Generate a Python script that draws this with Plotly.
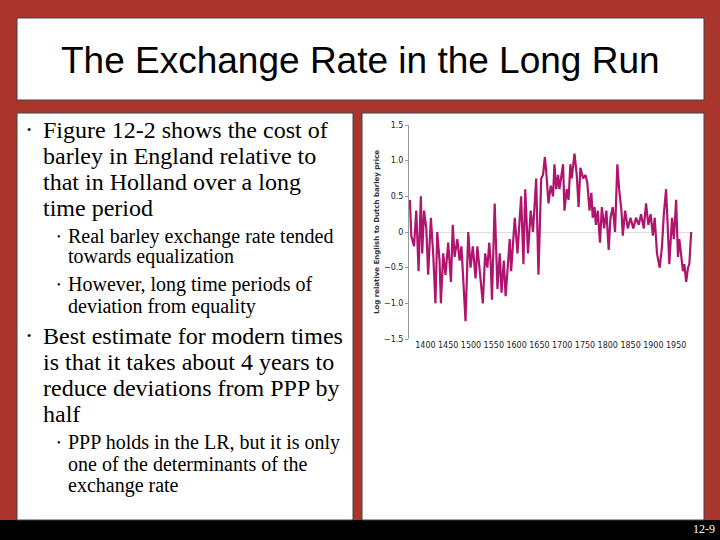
import plotly.graph_objects as go

years = [1366,1369,1375,1380,1385,1390,1393,1397,1402,1406,1412,1417,1422,1426,1431,1434,1439,1444,1450,1456,
         1460,1464,1470,1475,1479,1488,1494,1499,1504,1510,1514,1519,1526,1531,1536,1540,1543,1546,1552,1558,
         1563,1567,1572,1576,1580,1585,1588,1596,1602,1605,1610,1615,1619,1625,1631,1636,1643,1648,1654,1658,
         1662,1665,1670,1675,1680,1683,1687,1691,1694,1702,1705,1710,1714,1718,1721,1727,1732,1736,1740,1746,
         1751,1755,1760,1764,1767,1771,1774,1778,1783,1787,1792,1797,1802,1806,1811,1816,1821,1825,1830,1833,
         1838,1844,1850,1856,1862,1868,1873,1879,1884,1889,1894,1899,1903,1908,1914,1919,1923,1928,1932,1935,
         1941,1945,1950,1954,1957,1961,1965,1968,1972,1976,1979,1983]
values = [0.45,-0.05,-0.2,0.3,-0.55,0.5,-0.3,0.3,0.05,-0.6,0.2,-0.3,-1.0,0.0,-0.4,-1.0,-0.3,-0.6,-0.15,-0.7,
          0.1,-0.35,-0.1,-0.4,-0.2,-1.25,0.0,-0.5,-0.2,-0.65,-0.2,-0.5,-1.0,-0.3,-0.5,-0.15,-0.4,-0.95,0.4,-0.8,
          -0.3,-0.85,-0.4,-0.9,-0.5,-0.1,-0.55,0.2,-0.3,0.05,0.5,-0.45,0.6,-0.3,0.3,0.0,0.75,-0.6,0.75,0.8,
          1.05,0.85,0.4,0.65,0.5,0.95,0.6,0.8,0.6,0.95,0.3,0.6,0.45,0.95,0.75,1.1,0.8,0.35,0.9,0.75,
          0.8,0.7,0.3,0.55,0.2,0.35,0.1,0.3,-0.15,0.35,0.05,0.3,-0.25,0.2,0.35,0.0,0.95,0.6,0.3,-0.05,
          0.3,0.05,0.2,0.05,0.2,0.1,0.25,0.05,0.4,0.1,0.25,-0.05,0.2,-0.3,-0.5,-0.2,0.25,0.6,0.0,-0.45,
          0.2,-0.1,0.45,-0.35,-0.1,-0.3,-0.55,-0.45,-0.7,-0.5,-0.45,0.0]

y_ticks = [-1.5, -1.0, -0.5, 0, 0.5, 1.0, 1.5]
y_tick_labels = ["\u22121.5", "\u22121.0", "\u22120.5", "0", "0.5", "1.0", "1.5"]
x_ticks = [1400, 1450, 1500, 1550, 1600, 1650, 1700, 1750, 1800, 1850, 1900, 1950]

W, H = 720, 540
def px(x): return x / W
def py(y): return 1 - y / H

fig = go.Figure()
fig.add_trace(go.Scatter(x=years, y=values, mode="lines",
                         line=dict(color="#b0156e", width=2.2), showlegend=False))

shapes = [
    dict(type="rect", xref="paper", yref="paper", x0=0, x1=1, y0=0, y1=1,
         fillcolor="#a8362c", line_width=0, layer="below"),
    dict(type="rect", xref="paper", yref="paper", x0=px(0), x1=px(720), y0=py(540), y1=py(520),
         fillcolor="#000000", line_width=0, layer="below"),
    dict(type="rect", xref="paper", yref="paper", x0=px(17), x1=px(704), y0=py(100), y1=py(18),
         fillcolor="#ffffff", line=dict(color="#444444", width=1), layer="below"),
    dict(type="rect", xref="paper", yref="paper", x0=px(17), x1=px(353), y0=py(520), y1=py(113),
         fillcolor="#ffffff", line=dict(color="#444444", width=1), layer="below"),
    dict(type="rect", xref="paper", yref="paper", x0=px(362), x1=px(704), y0=py(520), y1=py(113),
         fillcolor="#ffffff", line=dict(color="#444444", width=1), layer="below"),
]

ann = []
def txt(x, y, s, size, font="Liberation Serif", anchor="left", color="#000000"):
    ann.append(dict(xref="paper", yref="paper", x=px(x), y=py(y), text=s, showarrow=False,
                    xanchor=anchor, yanchor="middle", font=dict(family=font, size=size, color=color)))

txt(360, 60, "The Exchange Rate in the Long Run", 37, font="Liberation Sans", anchor="center")

big = 24
for yy, s in [(130, "Figure 12-2 shows the cost of"), (156, "barley in England relative to"),
              (182, "that in Holland over a long"), (208, "time period"),
              (336, "Best estimate for modern times"), (362, "is that it takes about 4 years to"),
              (388, "reduce deviations from PPP by"), (414, "half")]:
    txt(41, yy, s, big)
txt(25, 130, "\u2022", 12)
txt(25, 336, "\u2022", 12)

small = 20
for yy, s in [(236, "Real barley exchange rate tended"), (257, "towards equalization"),
              (284, "However, long time periods of"), (306, "deviation from equality"),
              (442, "PPP holds in the LR, but it is only"), (464, "one of the determinants of the"),
              (485, "exchange rate")]:
    txt(66, yy, s, small)
for yy in [236, 284, 442]:
    txt(55, yy, "\u2022", 10)

txt(717, 529, "12-9", 12, font="Liberation Serif", anchor="right", color="#ffffff")

ann.append(dict(xref="paper", yref="paper", x=px(377), y=py(232), text="<b>Log relative English to Dutch barley price</b>",
                showarrow=False, textangle=-90, xanchor="center", yanchor="middle",
                font=dict(family="DejaVu Sans", size=7, color="#333333")))

fig.update_layout(
    width=W, height=H, margin=dict(l=0, r=0, t=0, b=0, autoexpand=False),
    paper_bgcolor="#a8362c", plot_bgcolor="rgba(0,0,0,0)",
    shapes=shapes, annotations=ann,
    xaxis=dict(domain=[px(409), px(693)], range=[1364, 1987], tickvals=x_ticks,
               ticktext=[str(t) for t in x_ticks], showgrid=False, zeroline=False, showline=False,
               ticks="", tickfont=dict(family="DejaVu Sans", size=8, color="#222222"), fixedrange=True),
    yaxis=dict(domain=[py(339), py(125)], range=[-1.5, 1.5], tickvals=y_ticks, ticktext=y_tick_labels,
               showgrid=False, zeroline=True, zerolinecolor="#dddddd", zerolinewidth=1,
               showline=True, linecolor="#999999", linewidth=1, ticks="outside", ticklen=3, tickcolor="#999999",
               tickfont=dict(family="DejaVu Sans", size=8, color="#222222"), fixedrange=True),
)
fig.write_html("out.html", config={"displayModeBar": False},
               post_script="document.body.style.margin='0';document.body.style.overflow='hidden';")
